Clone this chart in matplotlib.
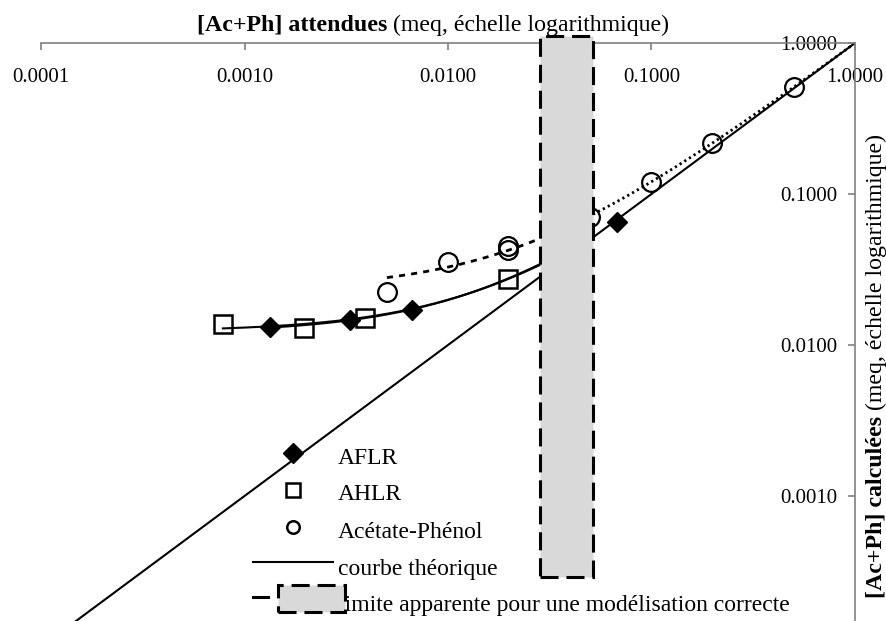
import numpy as np
import matplotlib.pyplot as plt
from matplotlib.patches import Rectangle
from matplotlib.lines import Line2D

plt.rcParams['font.family'] = ['Liberation Serif', 'DejaVu Serif']

# AFLR (losanges pleins)
aflr_x = [0.00133, 0.00330, 0.00665, 0.0676]
aflr_y = [0.01315, 0.01465, 0.01706, 0.0653]

# AHLR (carrés vides)
ahlr_x = [0.000783, 0.00196, 0.00391, 0.0197]
ahlr_y = [0.01377, 0.01297, 0.0151, 0.0274]

# Acétate-Phénol (cercles vides)
ap_x = [0.00501, 0.0100, 0.0197, 0.0197, 0.0499, 0.0996, 0.198, 0.501]
ap_y = [0.0224, 0.0355, 0.0452, 0.0426, 0.0704, 0.120, 0.218, 0.511]

# courbe théorique (y = x)
theo_x = [0.0001, 1.0]
theo_y = [0.0001, 1.0]

# zone grisée : limite apparente
limite_x = [0.0283, 0.0516]
limite_y = [0.000293, 1.11]

x_ticks = [0.0001, 0.001, 0.01, 0.1, 1.0]
y_ticks = [0.001, 0.01, 0.1, 1.0]
tick_labels_x = ["0.0001", "0.0010", "0.0100", "0.1000", "1.0000"]
tick_labels_y = ["0.0010", "0.0100", "0.1000", "1.0000"]

labels = ["AFLR", "AHLR", "Acétate-Phénol", "courbe théorique",
          "limite apparente pour une modélisation correcte"]

W, H = 887, 621
fig = plt.figure(figsize=(W / 100, H / 100), dpi=100)
ax = fig.add_axes([41 / W, 0, (855 - 41) / W, (621 - 43) / H])
ax.set_xscale("log")
ax.set_yscale("log")
ax.set_xlim(1e-4, 1)
ax.set_ylim(10 ** (-578 / 151), 1)


def trend(xs, ys, x0, x1):
    # droite de tendance linéaire (comme Excel), tracée en log-log
    a, b = np.polyfit(xs, ys, 1)
    xx = np.logspace(np.log10(x0), np.log10(x1), 200)
    return xx, a * xx + b


# courbes
ax.plot(theo_x, theo_y, color="black", lw=1.5, zorder=2)
tx, ty = trend(ahlr_x, ahlr_y, min(ahlr_x), limite_x[0])
ax.plot(tx, ty, color="black", lw=1.5, zorder=2)
tx, ty = trend(aflr_x, aflr_y, min(aflr_x), limite_x[0])
ax.plot(tx, ty, color="black", lw=1.5, zorder=2)
tx, ty = trend(ap_x, ap_y, min(ap_x), limite_x[0])
ax.plot(tx, ty, color="black", lw=2, ls=(0, (2.2, 2.2)), zorder=2)
tx, ty = trend(ap_x, ap_y, limite_x[1], 1.0)
ax.plot(tx, ty, color="black", lw=2, ls=(0, (0.8, 1.2)), zorder=2)

# points
ax.plot(aflr_x, aflr_y, ls="none", marker="D", ms=10.5, color="black", zorder=4, clip_on=False)
ax.plot(ahlr_x, ahlr_y, ls="none", marker="s", ms=13, mfc="none", mec="black", mew=1.8,
        zorder=4, clip_on=False)
ax.plot(ap_x, ap_y, ls="none", marker="o", ms=13.5, mfc="none", mec="black", mew=1.6,
        zorder=4, clip_on=False)

# zone limite
ax.add_patch(Rectangle((limite_x[0], limite_y[0]), limite_x[1] - limite_x[0],
                       limite_y[1] - limite_y[0], facecolor="#d9d9d9", edgecolor="black",
                       lw=2.2, ls=(0, (5.9, 2.6)), zorder=5, clip_on=False))

# axes
for s in ["left", "bottom"]:
    ax.spines[s].set_visible(False)
for s in ["top", "right"]:
    ax.spines[s].set_color("#808080")
    ax.spines[s].set_linewidth(1.2)
ax.xaxis.set_ticks_position("top")
ax.yaxis.set_ticks_position("right")
ax.set_xticks(x_ticks)
ax.set_xticklabels(tick_labels_x)
ax.set_yticks(y_ticks)
ax.set_yticklabels(tick_labels_y)
ax.minorticks_off()
ax.tick_params(axis="x", direction="in", length=5, width=1.2, color="#808080",
               labelsize=15, pad=-32, labeltop=True, labelbottom=False)
ax.tick_params(axis="y", direction="in", length=5, width=1.2, color="#808080",
               labelsize=15, pad=-54, labelright=True, labelleft=False)

# titres des axes
t1 = fig.text(197 / W, 1 - 31 / H, "[Ac+Ph] attendues", fontsize=17.2, fontweight="bold",
              ha="left", va="baseline")
ax.annotate(" (meq, échelle logarithmique)", xy=(1, 0), xycoords=t1, fontsize=17.2,
            ha="left", va="bottom")
t2 = fig.text(876 / W, 1 - 598 / H, "[Ac+Ph] calculées", fontsize=17.2, fontweight="bold",
              rotation=90, ha="center", va="bottom")
ax.annotate(" (meq, échelle logarithmique)", xy=(0, 1), xycoords=t2, fontsize=17.2,
            rotation=90, ha="left", va="bottom")


# légende
def P(x, y):
    return x / W, 1 - y / H


tf = fig.transFigure
fig.add_artist(Line2D(*zip(P(293, 453)), transform=tf, marker="D", ms=10, color="black", ls="none"))
fig.add_artist(Line2D(*zip(P(293, 490)), transform=tf, marker="s", ms=10, mfc="none",
                      mec="black", mew=1.8, ls="none"))
fig.add_artist(Line2D(*zip(P(293, 527)), transform=tf, marker="o", ms=9, mfc="none",
                      mec="black", mew=1.8, ls="none"))
fig.add_artist(Line2D(*zip(P(253, 562), P(333, 562)), transform=tf, color="black", lw=1.5))
for lab, y in zip(labels, [458, 495, 532, 569, 605]):
    fig.text(338 / W, 1 - y / H, lab, fontsize=17, ha="left", va="center")
fig.add_artist(Line2D(*zip(P(253, 597), P(268, 597)), transform=tf, color="black", lw=2.2))
fig.add_artist(Rectangle(P(278, 612), 67 / W, 27 / H, transform=tf, facecolor="#d9d9d9",
                         edgecolor="black", lw=2.2, ls=(0, (5.9, 2.6)), zorder=5))

fig.savefig("out.png", dpi=100)
